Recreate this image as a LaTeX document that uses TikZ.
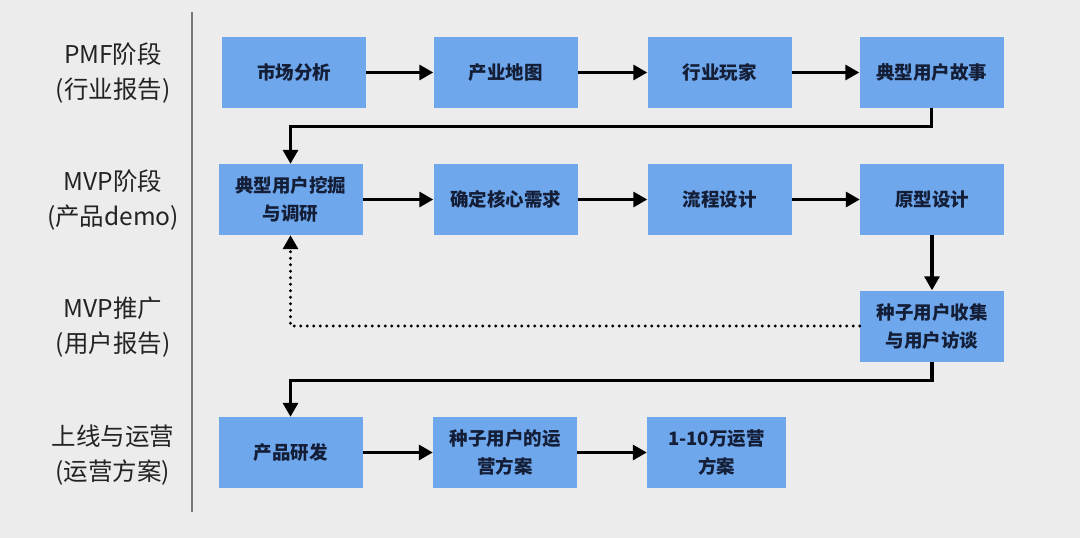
\documentclass[tikz,border=0pt]{standalone}
\usepackage{fontspec}
\setmainfont{Noto Sans CJK SC}
\usetikzlibrary{arrows.meta}
\definecolor{bg}{RGB}{236,236,236}
\definecolor{boxfill}{RGB}{110,167,236}
\definecolor{boxtext}{RGB}{20,30,55}
\definecolor{labeltext}{RGB}{35,35,35}
\definecolor{sep}{RGB}{120,120,120}
\tikzset{
  stepbox/.style={draw=none, fill=boxfill, minimum width=144pt, minimum height=71pt, inner sep=0pt,
    align=center, font=\fontsize{18.5}{28}\selectfont\bfseries, text=boxtext},
  stagelabel/.style={align=center, font=\fontsize{24.5}{35}\selectfont, text=labeltext},
  flow/.style={line width=3.2pt, -{Triangle[length=14pt,width=15pt]}},
  back/.style={line width=3.2pt, line cap=round, dash pattern=on 0pt off 6.5pt, -{Triangle[length=14pt,width=15pt]}}
}
\begin{document}
\begin{tikzpicture}[x=1pt,y=-1pt]
\fill[bg] (0,0) rectangle (1080,538);
\useasboundingbox (0,0) rectangle (1080,538);
\draw[sep, line width=1.5pt] (192,12) -- (192,512);
% stage labels
\node[stagelabel] (l1) at (113,73) {PMF阶段\\(行业报告)};
\node[stagelabel] (l2) at (113,200) {MVP阶段\\(产品demo)};
\node[stagelabel] (l3) at (113,327) {MVP推广\\(用户报告)};
\node[stagelabel] (l4) at (113,455) {上线与运营\\(运营方案)};
% row 1
\node[stepbox] (a1) at (294,72.5) {市场分析};
\node[stepbox] (a2) at (505.5,72.5) {产业地图};
\node[stepbox] (a3) at (719.5,72.5) {行业玩家};
\node[stepbox] (a4) at (931.5,72.5) {典型用户故事};
% row 2
\node[stepbox] (b1) at (290.5,199.5) {典型用户挖掘\\与调研};
\node[stepbox] (b2) at (505.5,199.5) {确定核心需求};
\node[stepbox] (b3) at (719.5,199.5) {流程设计};
\node[stepbox] (b4) at (932,199.5) {原型设计};
% row 3
\node[stepbox] (c4) at (932,326) {种子用户收集\\与用户访谈};
% row 4
\node[stepbox] (d1) at (290.5,452.5) {产品研发};
\node[stepbox] (d2) at (505,452.5) {种子用户的运\\营方案};
\node[stepbox, minimum width=139pt] (d3) at (716.5,452.5) {1-10万运营\\方案};
% connectors
\draw[flow] (a1) -- (a2);
\draw[flow] (a2) -- (a3);
\draw[flow] (a3) -- (a4);
\draw[flow] (a4.south) -- ++(0,18) -| (b1.north);
\draw[flow] (b1) -- (b2);
\draw[flow] (b2) -- (b3);
\draw[flow] (b3) -- (b4);
\draw[flow] (b4) -- (c4);
\draw[back] (c4.west) -| (b1.south);
\draw[flow] (c4.south) -- ++(0,19) -| (d1.north);
\draw[flow] (d1) -- (d2);
\draw[flow] (d2) -- (d3);
\end{tikzpicture}
\end{document}
